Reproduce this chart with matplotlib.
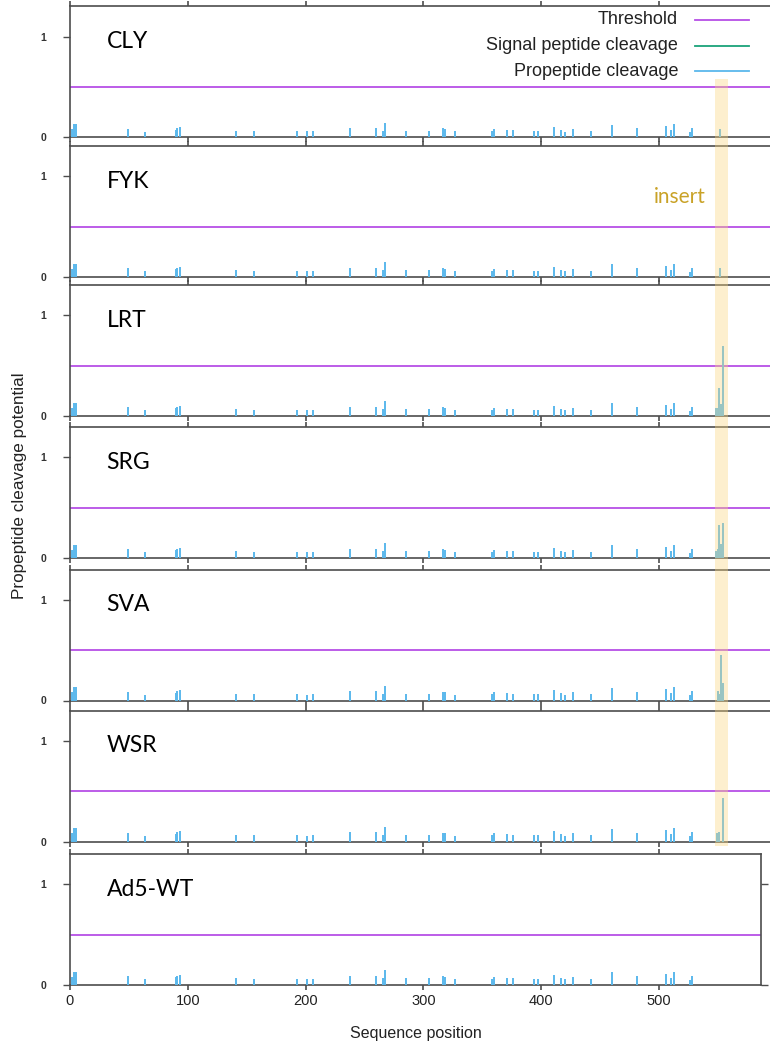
import matplotlib
matplotlib.use("Agg")
import matplotlib.pyplot as plt
from matplotlib.lines import Line2D
from matplotlib.patches import Rectangle

# --- data ---------------------------------------------------------------
panel_names = ["CLY", "FYK", "LRT", "SRG", "SVA", "WSR", "Ad5-WT"]

# propeptide cleavage sites shared by all constructs
base_pos = [2, 3, 5, 49, 64, 90, 91, 93, 141, 156, 193, 201, 206, 238, 260,
            266, 267, 285, 305, 317, 318, 327, 358, 360, 371, 376, 394, 397,
            411, 417, 420, 427, 442, 460, 481, 506, 510, 513, 526, 528]
base_val = [0.083, 0.13, 0.13, 0.085, 0.055, 0.075, 0.09, 0.10, 0.066, 0.062,
            0.062, 0.058, 0.062, 0.09, 0.09, 0.065, 0.145, 0.065, 0.066, 0.088,
            0.08, 0.058, 0.063, 0.08, 0.073, 0.068, 0.06, 0.06, 0.10, 0.073,
            0.057, 0.08, 0.06, 0.125, 0.088, 0.11, 0.074, 0.13, 0.052, 0.09]

# sites inside the insert, per construct
insert_pos = [[552], [552], [548, 550, 551, 553, 554], [548, 550, 551, 553, 554],
              [550, 551, 553, 554], [549, 551, 554], []]
insert_val = [[0.085], [0.085], [0.076, 0.076, 0.277, 0.115, 0.69],
              [0.073, 0.09, 0.33, 0.14, 0.35], [0.09, 0.06, 0.45, 0.17],
              [0.083, 0.096, 0.43], []]

threshold = 0.5
insert_range = (547.5, 558.5)
seq_len = 587
xticks = [0, 100, 200, 300, 400, 500]

# --- style ----------------------------------------------------------------
c_thr = "#b64fe6"
c_sig = "#1aa37a"
c_pro = "#5ab8ec"
c_axis = "#4d4d4d"
plt.rcParams["font.family"] = ["Liberation Sans", "DejaVu Sans"]

W, H = 770, 1053
fig = plt.figure(figsize=(W / 100, H / 100), dpi=100)

x0 = 70.0          # pixel of sequence position 0
pxu = 1.178        # pixels per residue
ytop = 1.3
ph = 131.0         # panel height in px
zeros = [137.3, 277, 416, 558, 700.5, 841.5, 985]

axes = []
for i, name in enumerate(panel_names):
    last = i == len(panel_names) - 1
    xmax = seq_len if last else (795 - x0) / pxu
    z = zeros[i]
    ax = fig.add_axes([x0 / W, 1 - z / H, xmax * pxu / W, ph / H])
    ax.set_xlim(0, xmax)
    ax.set_ylim(0, ytop)

    ax.axhline(threshold, color=c_thr, lw=1.3, zorder=2)
    ax.vlines(base_pos, 0, base_val, color=c_pro, lw=1.4, zorder=3)
    if insert_pos[i]:
        ax.vlines(insert_pos[i], 0, insert_val[i], color=c_pro, lw=1.4, zorder=3)

    ax.text(31, 0.95, name, fontsize=16.5, family=["Lato", "DejaVu Sans"],
            va="center", ha="left")

    for s in ax.spines.values():
        s.set_color(c_axis)
        s.set_linewidth(1.2)
    if not last:
        ax.spines["right"].set_visible(False)

    ax.set_yticks([0, 1])
    ax.set_yticklabels(["0", "1"])
    ax.set_xticks(xticks)
    ax.tick_params(axis="y", direction="out", length=5, width=1, color=c_axis,
                   labelsize=7.5, labelcolor="#333333", pad=12, right=last)
    ax.tick_params(axis="x", direction="out", length=3.5, width=1.2, color=c_axis,
                   top=True, labelbottom=last, labelsize=10.5, labelcolor="#222222", pad=3)
    for lab in ax.get_yticklabels():
        lab.set_fontweight("bold")
    ax.patch.set_alpha(0)
    axes.append(ax)

axes[-1].set_xlabel("Sequence position", fontsize=11.5, labelpad=13, color="#222222")
fig.text(20 / W, 1 - 486 / H, "Propeptide cleavage potential", rotation=90,
         fontsize=12.3, ha="center", va="center", color="#222222")

# legend drawn by hand in the first panel
leg_rows = [("Threshold", c_thr), ("Signal peptide cleavage", c_sig),
            ("Propeptide cleavage", c_pro)]
for k, (lab, col) in enumerate(leg_rows):
    yy = 1 - (20 + 25.5 * k) / H
    fig.text(678 / W, yy, lab, ha="right", va="center", fontsize=13, color="#222222")
    fig.add_artist(Line2D([695 / W, 749 / W], [yy, yy], color=col, lw=1.3,
                          transform=fig.transFigure))

# insert highlight spanning the panels
top_ax, bot_ax = axes[0], axes[5]
to_fig = fig.transFigure.inverted()
xa, ya = to_fig.transform(top_ax.transData.transform((insert_range[0], 0.58)))
xb, _ = to_fig.transform(top_ax.transData.transform((insert_range[1], 0.58)))
_, yb = to_fig.transform(bot_ax.transData.transform((insert_range[0], 0)))
yb -= 4 / H
fig.add_artist(Rectangle((xa, yb), xb - xa, ya - yb, transform=fig.transFigure,
                         facecolor="#fbd77e", alpha=0.38, edgecolor="none", zorder=10))
fig.text(680 / W, 1 - 197 / H, "insert", color="#c9a227", fontsize=15,
         family=["Lato", "DejaVu Sans"], ha="center", va="center")

fig.savefig("out.png", dpi=100)
